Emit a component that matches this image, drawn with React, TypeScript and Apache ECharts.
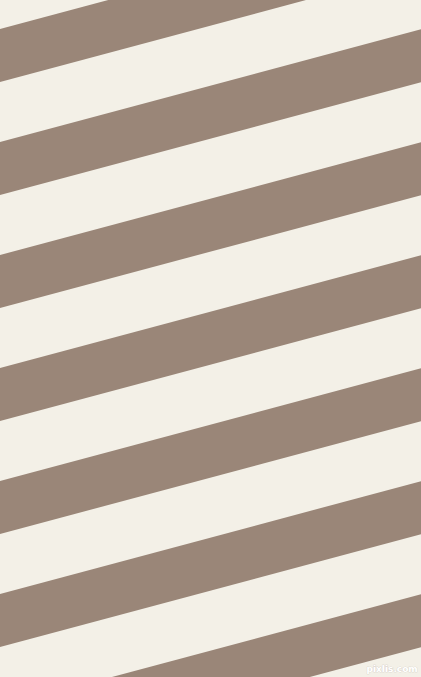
import { useEffect, useRef } from "react";
import * as echarts from "echarts";

// y of each brown stripe's edges where it meets the left edge (x = 0)
const stripeTops = [-84, 29, 142, 255, 368, 481, 594, 707];
const stripeBottoms = [-31, 82, 195, 308, 421, 534, 647, 760];
const slope = Math.tan((15 * Math.PI) / 180);

const W = 421;
const H = 677;

export default function App() {
  const ref = useRef<HTMLDivElement>(null);
  useEffect(() => {
    if (!ref.current) return;
    const chart = echarts.init(ref.current, undefined, { renderer: "svg" });
    chart.setOption({
      animation: false,
      backgroundColor: "#f3f0e7",
      grid: { left: 0, right: 0, top: 0, bottom: 0 },
      xAxis: { type: "value", min: 0, max: W, show: false },
      yAxis: { type: "value", min: 0, max: H, inverse: true, show: false },
      series: [
        {
          type: "custom",
          silent: true,
          data: stripeTops.map((t, i) => [t, stripeBottoms[i]]),
          renderItem: (_params: any, api: any) => {
            const top = api.value(0);
            const bottom = api.value(1);
            const drop = slope * W;
            const pts = [
              api.coord([0, top]),
              api.coord([W, top - drop]),
              api.coord([W, bottom - drop]),
              api.coord([0, bottom]),
            ];
            return {
              type: "polygon",
              shape: { points: pts },
              style: { fill: "#9a8678" },
            };
          },
        },
      ],
      graphic: [
        {
          type: "text",
          right: 3,
          bottom: 3,
          style: {
            text: "pixlis.com",
            fill: "#ffffff",
            stroke: "#cfc9bf",
            lineWidth: 0.6,
            font: "bold 9px 'DejaVu Sans', sans-serif",
          },
        },
      ],
    });
    return () => chart.dispose();
  }, []);
  return (
    <div
      ref={ref}
      style={{ position: "fixed", left: 0, top: 0, width: W, height: H }}
    />
  );
}
